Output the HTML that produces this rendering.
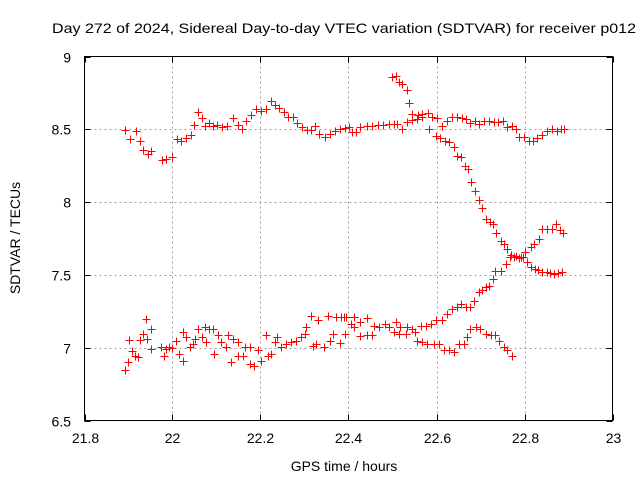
<!DOCTYPE html>
<html><head><meta charset="utf-8"><style>
html,body{margin:0;padding:0;background:#fff;}
svg{display:block;font-family:"Liberation Sans","DejaVu Sans",sans-serif;}
</style></head><body>
<svg id="chart" width="640" height="480" viewBox="0 0 640 480">
<text x="344" y="33" font-size="14" text-anchor="middle" textLength="584" lengthAdjust="spacingAndGlyphs">Day 272 of 2024, Sidereal Day-to-day VTEC variation (SDTVAR) for receiver p012</text>
<g id="grid"></g>
<g id="marks"></g>
<rect x="84.5" y="56.5" width="528" height="364" fill="none" stroke="#000" stroke-width="1"/>
<g id="ticks"></g>
<text x="344" y="471" font-size="14" text-anchor="middle">GPS time / hours</text>
<text x="20" y="238" font-size="14" text-anchor="middle" transform="rotate(-90 20 238)">SDTVAR / TECUs</text>
</svg>
<script>
const xTicks = [21.8, 22, 22.2, 22.4, 22.6, 22.8, 23];
const xTickLabels = ["21.8", "22", "22.2", "22.4", "22.6", "22.8", "23"];
const yTicks = [6.5, 7, 7.5, 8, 8.5, 9];
const yTickLabels = ["6.5", "7", "7.5", "8", "8.5", "9"];

const upperTimes = [21.891,21.904,21.916,21.927,21.933,21.944,21.952,21.976,21.986,21.998,22.011,22.02,22.031,22.041,22.048,22.058,22.067,22.073,22.083,22.092,22.101,22.112,22.124,22.137,22.148,22.158,22.167,22.179,22.19,22.202,22.213,22.224,22.232,22.243,22.253,22.262,22.273,22.283,22.294,22.305,22.314,22.323,22.334,22.347,22.358,22.37,22.38,22.391,22.401,22.409,22.416,22.427,22.441,22.454,22.467,22.479,22.492,22.503,22.511,22.522,22.534,22.545,22.556,22.568,22.58,22.59,22.602,22.612,22.624,22.636,22.647,22.659,22.668,22.677,22.687,22.696,22.708,22.719,22.73,22.74,22.751,22.761,22.771,22.78,22.787,22.799,22.81,22.82,22.829,22.84,22.852,22.862,22.873,22.882,22.89];
const upperValues = [8.492,8.43,8.485,8.423,8.359,8.331,8.35,8.286,8.297,8.313,8.43,8.418,8.439,8.464,8.531,8.618,8.579,8.521,8.544,8.521,8.531,8.515,8.526,8.576,8.531,8.499,8.556,8.6,8.636,8.624,8.636,8.691,8.668,8.647,8.618,8.583,8.583,8.542,8.515,8.492,8.492,8.526,8.469,8.45,8.469,8.485,8.503,8.508,8.515,8.48,8.48,8.515,8.521,8.526,8.531,8.531,8.537,8.537,8.537,8.499,8.549,8.565,8.572,8.583,8.611,8.583,8.579,8.521,8.56,8.583,8.583,8.579,8.572,8.542,8.554,8.537,8.56,8.554,8.549,8.549,8.554,8.515,8.521,8.503,8.45,8.446,8.423,8.423,8.439,8.462,8.485,8.503,8.485,8.499,8.503];

const fallTimes = [22.499,22.507,22.515,22.522,22.532,22.537,22.545,22.558,22.568,22.583,22.598,22.609,22.619,22.628,22.64,22.647,22.656,22.664,22.672,22.679,22.687,22.696,22.704,22.712,22.721,22.728,22.736,22.746,22.753,22.761,22.77,22.777,22.787,22.797,22.806,22.814,22.823,22.83,22.84,22.85,22.859,22.867,22.876,22.886];
const fallValues = [8.858,8.869,8.824,8.808,8.771,8.682,8.602,8.595,8.602,8.503,8.457,8.441,8.423,8.412,8.377,8.32,8.309,8.251,8.228,8.137,8.075,8.016,7.958,7.885,7.862,7.851,7.789,7.736,7.709,7.679,7.64,7.622,7.617,7.622,7.587,7.553,7.542,7.535,7.519,7.519,7.514,7.507,7.514,7.519];

const riseTimes = [22.598,22.613,22.624,22.636,22.647,22.656,22.666,22.677,22.685,22.696,22.704,22.712,22.719,22.729,22.734,22.746,22.757,22.768,22.78,22.791,22.802,22.814,22.821,22.833,22.84,22.852,22.863,22.871,22.88,22.888];
const riseValues = [7.187,7.187,7.233,7.267,7.278,7.301,7.278,7.278,7.324,7.381,7.393,7.416,7.427,7.473,7.53,7.53,7.576,7.622,7.633,7.622,7.656,7.69,7.713,7.747,7.816,7.816,7.816,7.851,7.805,7.787];

const dropTimes = [22.617,22.628,22.64,22.651,22.662,22.67,22.677,22.689,22.7,22.712,22.723,22.734,22.742,22.753,22.761,22.772];
const dropValues = [6.981,6.981,6.969,7.026,7.026,7.072,7.129,7.141,7.129,7.095,7.084,7.084,7.049,7.004,6.981,6.946];

const lowerTimes = [21.891,21.898,21.902,21.908,21.914,21.921,21.925,21.933,21.94,21.942,21.952,21.952,21.974,21.98,21.986,21.993,21.998,22.008,22.014,22.023,22.023,22.031,22.039,22.046,22.05,22.058,22.067,22.073,22.077,22.084,22.092,22.095,22.103,22.111,22.122,22.127,22.133,22.137,22.148,22.148,22.16,22.164,22.175,22.177,22.186,22.194,22.202,22.213,22.217,22.224,22.232,22.238,22.247,22.258,22.27,22.281,22.292,22.3,22.304,22.315,22.319,22.327,22.33,22.345,22.353,22.357,22.364,22.372,22.38,22.383,22.391,22.395,22.406,22.39,22.412,22.412,22.427,22.427,22.443,22.443,22.454,22.458,22.469,22.484,22.492,22.503,22.507,22.515,22.518,22.53,22.534,22.545,22.552,22.556,22.564,22.568,22.577,22.579,22.587,22.594,22.605];
const lowerValues = [6.848,6.901,7.05,6.976,6.946,6.935,7.05,7.095,7.198,7.061,7.13,6.992,7.004,6.94,6.992,7.004,6.999,7.045,6.958,6.912,7.107,7.072,7.004,7.026,7.061,7.13,7.072,7.141,7.038,7.13,7.13,6.958,7.084,7.038,7.004,7.084,6.901,7.061,6.946,7.038,6.946,7.004,6.889,7.004,6.871,6.981,6.912,7.084,6.946,6.958,7.038,7.072,7.004,7.026,7.038,7.049,7.072,7.095,7.141,7.221,7.015,7.026,7.187,7.004,7.221,7.045,7.095,7.21,7.031,7.21,7.095,7.21,7.164,7.21,7.214,7.141,7.077,7.175,7.205,7.084,7.084,7.152,7.141,7.164,7.141,7.107,7.175,7.095,7.141,7.095,7.141,7.13,7.107,7.049,7.152,7.038,7.152,7.026,7.164,7.026,7.026];

const X0 = 84.5, X1 = 612.5, Y0 = 420.5, Y1 = 56.5;
const xMin = 21.8, xMax = 23, yMin = 6.5, yMax = 9;
function xs(v){ return X0 + (v - xMin) / (xMax - xMin) * (X1 - X0); }
function ys(v){ return Y0 - (v - yMin) / (yMax - yMin) * (Y0 - Y1); }
const NS = "http://www.w3.org/2000/svg";
function mk(tag, attrs, parent){
  const e = document.createElementNS(NS, tag);
  for (const k in attrs) e.setAttribute(k, attrs[k]);
  parent.appendChild(e);
  return e;
}
const grid = document.getElementById('grid');
const ticks = document.getElementById('ticks');
const marks = document.getElementById('marks');

xTicks.forEach((t, i) => {
  const x = Math.round(xs(t)) + 0.5;
  if (i > 0 && i < xTicks.length - 1) {
    const g = mk('line', {x1:x, x2:x, y1:Y1, y2:Y0, stroke:'#a0a0a0', 'stroke-dasharray':'2,3'}, grid);
    
    
  }
  const a = mk('line', {x1:x, x2:x, y1:Y0, y2:Y0-6, stroke:'#000'}, ticks);
  
  
  const b = mk('line', {x1:x, x2:x, y1:Y1, y2:Y1+6, stroke:'#000'}, ticks);
  
  
  const l = mk('text', {x:x, y:443, 'font-size':14, 'text-anchor':'middle'}, ticks);
  l.textContent = xTickLabels[i];
  
  
});
yTicks.forEach((t, i) => {
  const y = Math.round(ys(t)) + 0.5;
  if (i > 0 && i < yTicks.length - 1) {
    const g = mk('line', {x1:X0, x2:X1, y1:y, y2:y, stroke:'#a0a0a0', 'stroke-dasharray':'2,3'}, grid);
    
    
  }
  const a = mk('line', {x1:X0, x2:X0+6, y1:y, y2:y, stroke:'#000'}, ticks);
  
  
  const b = mk('line', {x1:X1, x2:X1-6, y1:y, y2:y, stroke:'#000'}, ticks);
  
  
  const l = mk('text', {x:71, y:y+5, 'font-size':14, 'text-anchor':'end'}, ticks);
  l.textContent = yTickLabels[i];
  
  
});

function plot(times, vals, name){
  times.forEach((t, i) => {
    const x = Math.round(xs(t)) + 0.5, y = Math.round(ys(vals[i])) + 0.5;
    const p = mk('path', {d:`M${x-4} ${y}H${x+4}M${x} ${y-4}V${y+4}`, stroke:'#ff0000', 'stroke-width':1, fill:'none'}, marks);
    
    
  });
}
plot(upperTimes, upperValues, 'upper-track-point');
plot(fallTimes, fallValues, 'falling-track-point');
plot(riseTimes, riseValues, 'rising-track-point');
plot(dropTimes, dropValues, 'lower-drop-point');
plot(lowerTimes, lowerValues, 'lower-track-point');
</script>
</body></html>
